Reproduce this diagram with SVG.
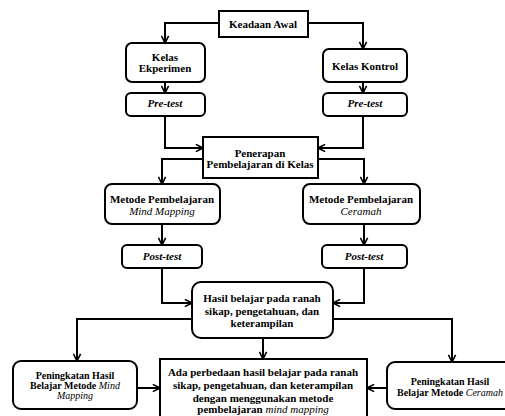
<svg xmlns="http://www.w3.org/2000/svg" width="505" height="416" viewBox="0 0 505 416">
<style>
.box{fill:#fff;stroke:#000;stroke-width:2}
.t{font-family:'Liberation Serif','DejaVu Serif',serif;font-weight:bold;font-size:11px;fill:#000;text-anchor:middle}
.s{font-size:10px}
.i{font-style:italic}
.n{font-weight:normal}
.c{fill:none;stroke:#000;stroke-width:2;marker-end:url(#a)}
</style>
<defs>
<marker id="a" viewBox="0 0 10 10" refX="9" refY="5" markerWidth="9" markerHeight="9" markerUnits="userSpaceOnUse" orient="auto">
<path d="M1,1 L9,5 L1,9" fill="none" stroke="#000" stroke-width="1.8"/>
</marker>
</defs>
<rect width="505" height="416" fill="#fff"/>
<g id="connectors">
<path class="c" d="M219,23 H165 V43"/>
<path class="c" d="M308,23 H363 V49"/>
<path class="c" d="M165,82 V93"/>
<path class="c" d="M363,82 V93"/>
<path class="c" d="M165,116 V148 H203"/>
<path class="c" d="M363,116 V148 H318"/>
<path class="c" d="M203,159 H162 V184"/>
<path class="c" d="M318,159 H364 V184"/>
<path class="c" d="M162,224 V245"/>
<path class="c" d="M364,224 V245"/>
<path class="c" d="M162,268 V303 H192"/>
<path class="c" d="M364,268 V303 H333"/>
<path class="c" d="M192,319 H77 V361"/>
<path class="c" d="M333,319 H452 V362"/>
<path class="c" d="M263,338 V359"/>
<path class="c" d="M137,388 H160"/>
<path class="c" d="M387,388 H367"/>
</g>
<g id="keadaan-awal">
<rect class="box" x="219" y="11" width="89" height="26"/>
<text class="t" x="263" y="28">Keadaan Awal</text>
</g>
<g id="kelas-eksperimen">
<rect class="box" x="126" y="43" width="79" height="39" rx="6"/>
<text class="t" x="165" y="61">Kelas</text>
<text class="t" x="165" y="72">Ekperimen</text>
</g>
<g id="kelas-kontrol">
<rect class="box" x="323" y="49" width="84" height="33" rx="6"/>
<text class="t" x="365" y="70">Kelas Kontrol</text>
</g>
<g id="pretest-1">
<rect class="box" x="126" y="93" width="79" height="23" rx="5"/>
<text class="t i" x="165" y="107">Pre-test</text>
</g>
<g id="pretest-2">
<rect class="box" x="323" y="93" width="84" height="23" rx="5"/>
<text class="t i" x="365" y="107">Pre-test</text>
</g>
<g id="penerapan">
<rect class="box" x="203" y="137" width="115" height="41"/>
<text class="t" x="260" y="157">Penerapan</text>
<text class="t" x="260" y="168">Pembelajaran di Kelas</text>
</g>
<g id="metode-mind">
<rect class="box" x="105" y="184" width="115" height="40" rx="7"/>
<text class="t" x="162" y="203">Metode Pembelajaran</text>
<text class="t i n" x="162" y="215">Mind Mapping</text>
</g>
<g id="metode-ceramah">
<rect class="box" x="303" y="184" width="117" height="40" rx="7"/>
<text class="t" x="361" y="203">Metode Pembelajaran</text>
<text class="t i n" x="361" y="215">Ceramah</text>
</g>
<g id="posttest-1">
<rect class="box" x="122" y="245" width="80" height="23" rx="5"/>
<text class="t i" x="162" y="260">Post-test</text>
</g>
<g id="posttest-2">
<rect class="box" x="322" y="245" width="85" height="23" rx="5"/>
<text class="t i" x="364" y="260">Post-test</text>
</g>
<g id="hasil">
<rect class="box" x="192" y="282" width="141" height="56" rx="9"/>
<text class="t" x="262" y="302">Hasil belajar pada ranah</text>
<text class="t" x="262" y="315">sikap, pengetahuan, dan</text>
<text class="t" x="262" y="327">keterampilan</text>
</g>
<g id="peningkatan-mind">
<rect class="box" x="13" y="361" width="124" height="48" rx="8"/>
<text class="t s" x="75" y="379">Peningkatan Hasil</text>
<text class="t s" x="75" y="389">Belajar Metode <tspan class="i n">Mind</tspan></text>
<text class="t s i n" x="75" y="399">Mapping</text>
</g>
<g id="kesimpulan">
<rect class="box" x="160" y="359" width="207" height="62"/>
<text class="t" x="263" y="376">Ada perbedaan hasil belajar pada ranah</text>
<text class="t" x="263" y="389">sikap, pengetahuan, dan keterampilan</text>
<text class="t" x="263" y="402">dengan menggunakan metode</text>
<text class="t" x="263" y="413">pembelajaran <tspan class="i n">mind mapping</tspan></text>
</g>
<g id="peningkatan-ceramah">
<rect class="box" x="387" y="362" width="125" height="47" rx="8"/>
<text class="t s" x="450" y="385">Peningkatan Hasil</text>
<text class="t s" x="450" y="396">Belajar Metode <tspan class="i n">Ceramah</tspan></text>
</g>
</svg>
